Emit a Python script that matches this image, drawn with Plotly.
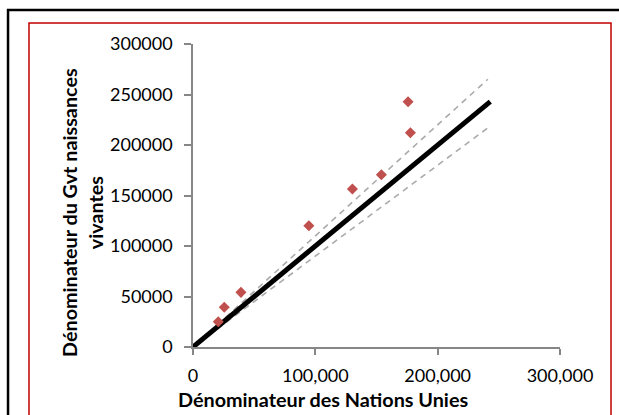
import plotly.graph_objects as go

# Data
un_denominator = [20650, 25550, 39200, 94700, 130300, 154000, 175800, 177700]
gvt_denominator = [25000, 39300, 54100, 120100, 156400, 170600, 242900, 212200]

# Reference lines: equality line and +/-10% bands
equality_x = [0, 243000]
equality_y = [0, 243000]
band_x = [20000, 241000]
upper_band_y = [v * 1.1 for v in band_x]
lower_band_y = [v * 0.9 for v in band_x]

x_tick_vals = [0, 100000, 200000, 300000]
y_tick_vals = [0, 50000, 100000, 150000, 200000, 250000, 300000]

x_title = "Dénominateur des Nations Unies"
y_title = "Dénominateur du Gvt naissances<br>vivantes"

FONT = "Lato, Carlito, Calibri, sans-serif"
AXIS_GRAY = "#868686"

fig = go.Figure()
fig.add_trace(go.Scatter(x=band_x, y=upper_band_y, mode="lines",
                         line=dict(color="#AAAAAA", width=1.6, dash="6px,5px"),
                         showlegend=False, hoverinfo="skip"))
fig.add_trace(go.Scatter(x=band_x, y=lower_band_y, mode="lines",
                         line=dict(color="#AAAAAA", width=1.6, dash="6px,5px"),
                         showlegend=False, hoverinfo="skip"))
fig.add_trace(go.Scatter(x=equality_x, y=equality_y, mode="lines",
                         line=dict(color="#000000", width=5),
                         showlegend=False))
fig.add_trace(go.Scatter(x=un_denominator, y=gvt_denominator, mode="markers",
                         marker=dict(symbol="diamond", size=8.5, color="#C0504D",
                                     line=dict(width=0)),
                         showlegend=False))

fig.update_layout(
    width=619, height=415,
    margin=dict(l=193, r=59, t=44, b=68),
    paper_bgcolor="white", plot_bgcolor="white",
    font=dict(family=FONT, size=18, color="#000000"),
    xaxis=dict(range=[0, 300000], tickvals=x_tick_vals, tickformat=",d",
               showgrid=False, zeroline=False, showline=True,
               linecolor=AXIS_GRAY, linewidth=1.5, ticks="outside",
               tickcolor=AXIS_GRAY, ticklen=6, tickwidth=1.5,
               ticklabelstandoff=6),
    yaxis=dict(range=[0, 300000], tickvals=y_tick_vals, tickformat="d",
               showgrid=False, zeroline=False, showline=True,
               linecolor=AXIS_GRAY, linewidth=1.5, ticks="outside",
               tickcolor=AXIS_GRAY, ticklen=7, tickwidth=1.5,
               ticklabelstandoff=8),
    annotations=[
        dict(text="<b>" + x_title + "</b>", xref="paper", yref="paper",
             x=0.353, y=-0.1716, showarrow=False, xanchor="center",
             yanchor="middle", font=dict(size=19.8, family=FONT)),
        dict(text="<b>" + y_title + "</b>", xref="paper", yref="paper",
             x=-0.3025, y=0.4455, showarrow=False, xanchor="center",
             yanchor="middle", textangle=-90, align="center",
             font=dict(size=19.8, family=FONT)),
    ],
    shapes=[
        dict(type="rect", xref="paper", yref="paper",
             x0=-0.504, x1=1.3, y0=-0.3, y1=1.112,
             line=dict(color="#000000", width=2.5), fillcolor="rgba(0,0,0,0)",
             layer="below"),
        dict(type="rect", xref="paper", yref="paper",
             x0=-0.4469, x1=1.139, y0=-0.3, y1=1.0693,
             line=dict(color="#C00000", width=1.5), fillcolor="rgba(0,0,0,0)",
             layer="below"),
    ],
)

fig.write_html("out.html",
               config={"displayModeBar": False},
               post_script="document.body.style.margin='0';document.body.style.overflow='hidden';")
